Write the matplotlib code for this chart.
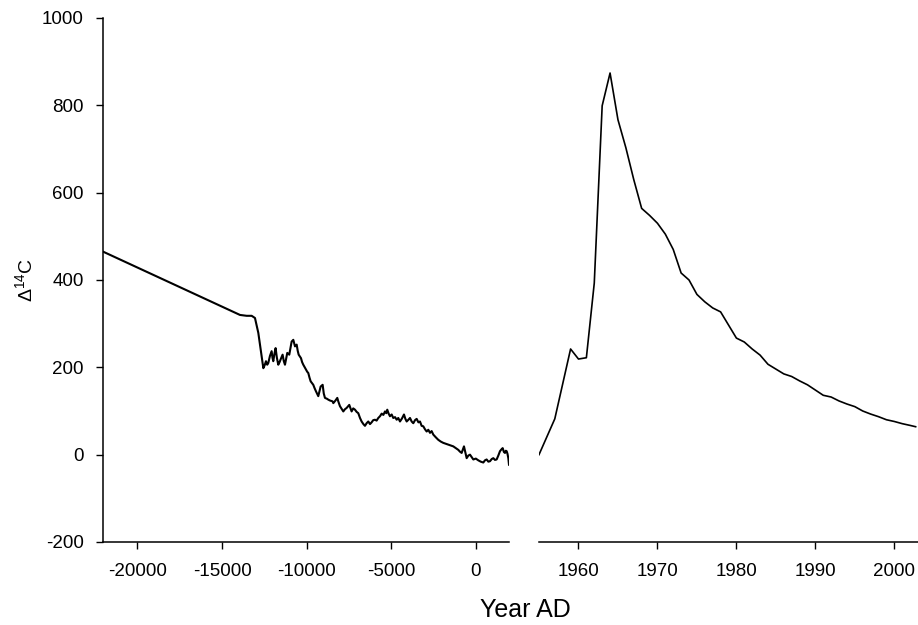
import matplotlib
matplotlib.use("Agg")
import matplotlib.pyplot as plt

plt.rcParams['font.family'] = ['Liberation Sans', 'DejaVu Sans']
plt.rcParams['mathtext.fontset'] = 'custom'
plt.rcParams['mathtext.rm'] = 'Liberation Sans'
plt.rcParams['mathtext.it'] = 'Liberation Sans:italic'
plt.rcParams['axes.unicode_minus'] = False

# long record (calibrated, years AD)
old_years = [-22030, -13940, -13545, -13250, -13054, -12857, -12717, -12560, -12480, -12404,
             -12330, -12267, -12170, -12070, -12020, -11973, -11900, -11835, -11760, -11678,
             -11600, -11540, -11422, -11350, -11282, -11200, -11146, -11028, -10950, -10888,
             -10790, -10690, -10591, -10530, -10473, -10336, -10270, -10200, -10040, -9970,
             -9905, -9830, -9765, -9610, -9530, -9450, -9315, -9240, -9175, -9057, -8990,
             -8920, -8800, -8725, -8624, -8466, -8427, -8300, -8192, -8133, -8034, -7950,
             -7837, -7740, -7640, -7484, -7346, -7250, -7147, -7050, -6952, -6850, -6755,
             -6650, -6557, -6460, -6361, -6260, -6165, -6070, -5966, -5870, -5771, -5670,
             -5570, -5470, -5375, -5300, -5240, -5160, -5080, -4980, -4885, -4780, -4684,
             -4590, -4489, -4370, -4253, -4170, -4094, -3990, -3898, -3800, -3703, -3600,
             -3504, -3400, -3308, -3210, -3113, -3010, -2912, -2817, -2717, -2620, -2522,
             -2380, -2227, -2080, -1931, -1780, -1636, -1490, -1340, -1190, -1045, -950,
             -847, -709, -630, -551, -450, -354, -250, -157, -10, 138, 280, 433, 530, 630,
             730, 827, 930, 1024, 1120, 1220, 1320, 1418, 1500, 1575, 1650, 1713, 1760,
             1811, 1860, 1910, 1950]
old_d14c = [465, 320, 318, 318, 313, 279, 240, 198, 205, 214,
            206, 210, 226, 237, 222, 214, 232, 244, 222, 206,
            212, 218, 229, 214, 206, 222, 233, 229, 246, 259,
            263, 248, 252, 238, 229, 221, 212, 206, 195, 190,
            187, 176, 168, 160, 152, 145, 134, 146, 156, 160,
            140, 130, 128, 126, 124, 122, 118, 124, 130, 122,
            111, 106, 99, 104, 107, 114, 99, 106, 103, 98,
            95, 84, 76, 70, 66, 72, 76, 70, 74, 79,
            80, 78, 84, 88, 94, 91, 99, 95, 103, 94,
            88, 92, 84, 86, 80, 84, 76, 83, 92, 82,
            76, 80, 84, 76, 72, 79, 82, 74, 76, 66,
            65, 58, 53, 57, 50, 54, 46, 40, 34, 30,
            27, 25, 23, 21, 19, 15, 11, 7, 4, 19,
            5, -8, -2, 0, -6, -11, -9, -13, -16, -18,
            -13, -11, -16, -15, -10, -8, -12, -11, -2, 8,
            12, 15, 6, 4, 9, 8, 2, -8, -23]

# bomb-pulse record
bomb_years = list(range(1955, 2003)) + [2002.7]
bomb_d14c = [0, 41, 82, 162, 242, 219, 222, 393, 799, 874,
             767, 703, 630, 564, 548, 530, 505, 470, 416, 400,
             367, 350, 336, 327, 297, 267, 258, 242, 228, 207,
             196, 185, 179, 169, 160, 148, 136, 132, 123, 116,
             110, 100, 93, 87, 80, 76, 71, 67, 64]

fig = plt.figure(figsize=(9.18, 6.25), dpi=100)
ax1 = fig.add_axes([103 / 918, 83 / 625, 406 / 918, 524 / 625])
ax2 = fig.add_axes([539 / 918, 83 / 625, 379 / 918, 524 / 625])

ax1.plot(old_years, old_d14c, color='black', lw=1.5)
ax2.plot(bomb_years, bomb_d14c, color='black', lw=1.2)

ax1.set_xlim(-22030, 1950)
ax2.set_xlim(1955, 2003)
for ax in (ax1, ax2):
    ax.set_ylim(-200, 1000)
    ax.spines['top'].set_visible(False)
    ax.spines['right'].set_visible(False)
    ax.spines['left'].set_linewidth(1.1)
    ax.spines['bottom'].set_linewidth(1.1)
    ax.tick_params(axis='x', length=5, width=1, pad=10, labelsize=13.5)
    ax.tick_params(axis='y', length=5, width=1, pad=9, labelsize=13.5)

ax1.set_xticks([-20000, -15000, -10000, -5000, 0])
ax1.set_yticks([-200, 0, 200, 400, 600, 800, 1000])
ax2.set_xticks([1960, 1970, 1980, 1990, 2000])
ax2.spines['left'].set_visible(False)
ax2.set_yticks([])

ax1.set_ylabel(r'$\Delta^{14}$C', fontsize=14, labelpad=4)
fig.text(525 / 918, 1 - 610 / 625, 'Year AD', ha='center', va='center', fontsize=18)

fig.savefig('out.png', dpi=100)
